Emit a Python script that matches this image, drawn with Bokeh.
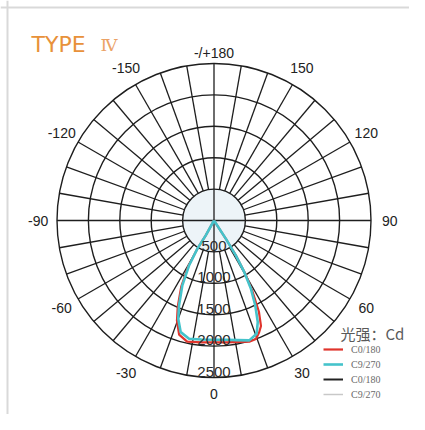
import numpy as np
from bokeh.plotting import figure
from bokeh.models import Range1d, Label, Legend, LegendItem, Span
from bokeh.core.properties import value
from bokeh.embed import file_html
from bokeh.resources import INLINE

# ---------------- data ----------------
ring_values = [500, 1000, 1500, 2000, 2500]
ring_labels = ["500", "1000", "1500", "2000", "2500"]
spoke_angles = list(range(-170, 190, 10))
angle_ticks = [180, 150, 120, 90, 60, 30, 0, -30, -60, -90, -120, -150]
angle_tick_labels = ["-/+180", "150", "120", "90", "60", "30", "0",
                     "-30", "-60", "-90", "-120", "-150"]

# C0/180 (red) : angle from nadir (deg), intensity (cd)
c0_angles = [-30, -29, -30.5, -29.3, -26.4, -22.8, -20.3, -17, -12.5, -6, 0,
             6, 12, 16.5, 19.5, 22, 24, 26.2, 28.5, 30.5, 32, 33, 33]
c0_cd = [0, 280, 530, 835, 1170, 1490, 1700, 1900, 1975, 1950, 1940,
         1950, 1975, 2010, 2000, 1920, 1840, 1620, 1280, 975, 665, 352, 0]

# C90/270 (cyan)
c90_angles = [-30, -29, -30.5, -29, -26, -22.4, -20, -16.6, -11.9, -6, 0,
              6, 11, 16.4, 20.6, 23.3, 25.9, 28.4, 30.4, 32, 33, 33]
c90_cd = [0, 270, 520, 820, 1150, 1460, 1665, 1855, 1925, 1905, 1900,
          1910, 1940, 1990, 1928, 1762, 1505, 1237, 954, 658, 349, 0]

legend_labels = ["C0/180", "C9/270", "C0/180", "C9/270"]
legend_colors = ["#e0342c", "#4fb9bf", "#222222", "#c8c8c8"]
unit_title = "光强：Cd"
chart_title = "TYPE"
chart_type = "Ⅳ"

# ---------------- layout ----------------
W, H = 409, 414
K = 2500 / 157.0          # cd per pixel
CX, CY = 213.5, 220.0     # pole in figure pixels


def px_to_data(x, y):
    return ((x - CX) * K, (CY - y) * K)


def polar(theta_deg, r):
    t = np.radians(np.asarray(theta_deg, dtype=float))
    r = np.asarray(r, dtype=float)
    return r * np.sin(t), -r * np.cos(t)


p = figure(width=W, height=H, output_backend="svg", toolbar_location=None,
           x_axis_type=None, y_axis_type=None, min_border=0,
           x_range=Range1d(-CX * K, (W - CX) * K),
           y_range=Range1d(-(H - CY) * K, CY * K))
p.grid.visible = False
p.outline_line_color = None
p.background_fill_color = "white"
p.border_fill_color = "white"

# frame lines (top / left)
p.add_layout(Span(location=px_to_data(7, 0)[0], dimension="height",
                  line_color="#d9d9d9", line_width=2))
p.add_layout(Span(location=px_to_data(0, 7)[1], dimension="width",
                  line_color="#d9d9d9", line_width=2))

GRID = "#1e1e1e"
# inner disk
p.circle(x=[0], y=[0], radius=[ring_values[0]], fill_color="#edf4f8",
         line_color=None)
# rings
p.circle(x=[0] * len(ring_values), y=[0] * len(ring_values), radius=ring_values,
         fill_color=None, line_color=GRID, line_width=1.4)
# spokes
r0 = [0 if a % 90 == 0 else ring_values[0] for a in spoke_angles]
x0, y0 = polar(spoke_angles, r0)
x1, y1 = polar(spoke_angles, [ring_values[-1]] * len(spoke_angles))
p.segment(x0=x0, y0=y0, x1=x1, y1=y1, line_color=GRID, line_width=1.3)

# curves
xr, yr = polar(c0_angles, c0_cd)
red_r = p.line(xr, yr, line_color=legend_colors[0], line_width=2.2,
               line_join="round")
xc, yc = polar(c90_angles, c90_cd)
cyan_r = p.line(xc, yc, line_color="#45c3cb", line_width=2.6,
                line_join="round")
# legend-only series (no curve drawn in the chart)
blk_r = p.line(x=[0], y=[0], line_color=legend_colors[2], line_width=2)
gry_r = p.line(x=[0], y=[0], line_color=legend_colors[3], line_width=1.5)

# ring labels
p.text(x=[0] * len(ring_values), y=[-(r - 6 * K) for r in ring_values],
       text=ring_labels, text_align="center", text_baseline="middle",
       text_font=value("Liberation Sans"), text_font_size="15px",
       text_color="#2a2a2a")

# angle labels
lab_r = []
for a in angle_ticks:
    if a == 180:
        lab_r.append(2675)
    elif a == 0:
        lab_r.append(2760)
    else:
        lab_r.append(2800)
ax, ay = polar(angle_ticks, lab_r)
p.text(x=ax, y=ay, text=angle_tick_labels, text_align="center",
       text_baseline="middle", text_font=value("Liberation Sans"),
       text_font_size="14px", text_color="#222222")

# title
tx, ty = px_to_data(31, 44)
p.add_layout(Label(x=tx, y=ty, text=chart_title, text_font="DejaVu Sans",
                   text_font_size="22px", text_color="#e8913a",
                   text_baseline="alphabetic"))
tx2, ty2 = px_to_data(100, 44)
p.add_layout(Label(x=tx2, y=ty2, text=chart_type, text_font="DejaVu Serif",
                   text_font_size="17px", text_color="#eba266",
                   text_baseline="alphabetic"))

# legend title
ux, uy = px_to_data(340, 333)
p.add_layout(Label(x=ux, y=uy, text=unit_title, text_font="Noto Sans CJK SC",
                   text_font_size="15px", text_color="#5a5a5a",
                   text_baseline="middle"))

legend = Legend(items=[LegendItem(label=legend_labels[0], renderers=[red_r]),
                       LegendItem(label=legend_labels[1], renderers=[cyan_r]),
                       LegendItem(label=legend_labels[2], renderers=[blk_r]),
                       LegendItem(label=legend_labels[3], renderers=[gry_r])],
                location=(323, 14), orientation="vertical",
                padding=0, margin=0, spacing=3, glyph_width=20,
                glyph_height=12, label_height=12, label_standoff=8,
                label_text_font="Liberation Serif", label_text_font_size="10px",
                label_text_color="#6a6a6a", background_fill_alpha=0,
                border_line_color=None)
p.add_layout(legend)

open("out.html", "w").write(file_html(p, INLINE))
